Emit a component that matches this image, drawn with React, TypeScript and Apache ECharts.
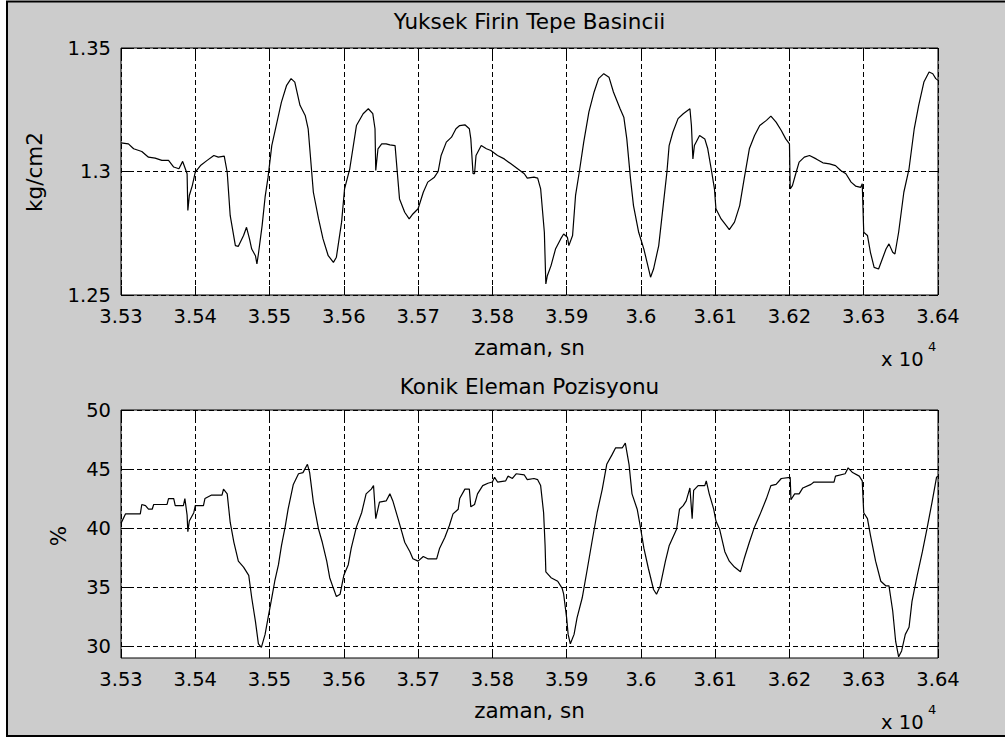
import React, { useEffect, useRef } from "react";
import * as echarts from "echarts";

// Furnace top pressure (kg/cm2) against time (s)
const pressureTime = [
  35300, 35310, 35317, 35328, 35337, 35346, 35355, 35364, 35371, 35378, 35383, 35385, 35389, 35390, 35392, 35396,
  35400, 35407, 35416, 35425, 35431, 35439, 35443, 35447, 35454, 35458, 35465, 35469, 35473, 35476, 35481, 35483,
  35485, 35490, 35494, 35498, 35503, 35510, 35516, 35523, 35529, 35534, 35541, 35548, 35552, 35559, 35566, 35572,
  35579, 35586, 35590, 35597, 35601, 35608, 35617, 35626, 35633, 35639, 35642, 35643, 35646, 35651, 35657, 35662,
  35669, 35672, 35675, 35682, 35688, 35693, 35700, 35707, 35713, 35722, 35727, 35731, 35738, 35745, 35751, 35756,
  35763, 35769, 35771, 35774, 35776, 35778, 35785, 35792, 35798, 35807, 35816, 35825, 35834, 35843, 35847, 35856,
  35861, 35865, 35870, 35872, 35874, 35879, 35885, 35892, 35896, 35901, 35903, 35908, 35912, 35917, 35923, 35930,
  35937, 35943, 35950, 35957, 35963, 35972, 35977, 35981, 35986, 35990, 35997, 36004, 36013, 36017, 36024, 36030,
  36035, 36038, 36043, 36050, 36057, 36066, 36068, 36070, 36072, 36079, 36086, 36090, 36095, 36099, 36101, 36108,
  36115, 36119, 36126, 36133, 36139, 36146, 36153, 36160, 36169, 36175, 36182, 36189, 36195, 36200, 36201, 36204,
  36209, 36213, 36220, 36227, 36236, 36245, 36254, 36262, 36269, 36276, 36283, 36289, 36296, 36298, 36300, 36305,
  36309, 36314, 36320, 36325, 36330, 36334, 36339, 36342, 36347, 36354, 36361, 36368, 36374, 36381, 36388, 36393,
  36397, 36400,
];
const pressureValue = [
  1.3116, 1.3112, 1.3092, 1.3081, 1.3058, 1.3054, 1.3045, 1.3045, 1.3018, 1.3011, 1.3041, 1.3024, 1.2991, 1.2842, 1.2903, 1.2943,
  1.2997, 1.3024, 1.3045, 1.3065, 1.3058, 1.3062, 1.2997, 1.2822, 1.27, 1.2697, 1.2741, 1.2774, 1.2727, 1.2686, 1.2659, 1.2626,
  1.2666, 1.2781, 1.2896, 1.2977, 1.3105, 1.32, 1.3281, 1.3349, 1.3376, 1.3362, 1.3268, 1.3227, 1.3173, 1.2916, 1.2808, 1.2727,
  1.2659, 1.2632, 1.2653, 1.2795, 1.293, 1.3011, 1.3186, 1.3234, 1.3254, 1.3234, 1.3173, 1.3004, 1.3092, 1.3112, 1.3112, 1.3108,
  1.3105, 1.2997, 1.2889, 1.2835, 1.2808, 1.2828, 1.2849, 1.2916, 1.2957, 1.2977, 1.3, 1.3065, 1.3119, 1.3139, 1.3173, 1.3186,
  1.3189, 1.3173, 1.3132, 1.2991, 1.2991, 1.3065, 1.3105, 1.3092, 1.3085, 1.3065, 1.3051, 1.3031, 1.3011, 1.2991, 1.2973, 1.2977,
  1.2973, 1.293, 1.2754, 1.2545, 1.2578, 1.2619, 1.2686, 1.2727, 1.2747, 1.2734, 1.27, 1.2741, 1.2903, 1.2997, 1.3119, 1.3241,
  1.3322, 1.3376, 1.3396, 1.3382, 1.3322, 1.3254, 1.322, 1.3132, 1.297, 1.2862, 1.2754, 1.2686, 1.2572, 1.2605, 1.27, 1.2862,
  1.2997, 1.3105, 1.3159, 1.3214, 1.3234, 1.3254, 1.3186, 1.3051, 1.3105, 1.3146, 1.3132, 1.3092, 1.3004, 1.293, 1.2849, 1.2808,
  1.2781, 1.2765, 1.2795, 1.2862, 1.297, 1.3092, 1.3146, 1.3186, 1.3207, 1.3224, 1.32, 1.3166, 1.3132, 1.3112, 1.293, 1.2943,
  1.2997, 1.3038, 1.3058, 1.3065, 1.3051, 1.3035, 1.3031, 1.3024, 1.3004, 1.2991, 1.2957, 1.2941, 1.2936, 1.295, 1.2754, 1.2741,
  1.2673, 1.2612, 1.2605, 1.2646, 1.2686, 1.2707, 1.2673, 1.2666, 1.2754, 1.2916, 1.3011, 1.3173, 1.3268, 1.3362, 1.3403, 1.3396,
  1.3376, 1.3369,
];

// Cone element position (%) against time (s)
const positionTime = [
  35300, 35306, 35326, 35328, 35333, 35337, 35342, 35344, 35362, 35364, 35371, 35373, 35384, 35386, 35389, 35390,
  35392, 35398, 35400, 35411, 35413, 35422, 35436, 35438, 35443, 35447, 35452, 35458, 35465, 35472, 35476, 35481,
  35485, 35489, 35494, 35498, 35503, 35507, 35512, 35516, 35521, 35525, 35532, 35539, 35545, 35551, 35554, 35559,
  35566, 35571, 35577, 35581, 35586, 35590, 35595, 35600, 35606, 35610, 35617, 35624, 35630, 35637, 35640, 35643,
  35648, 35657, 35662, 35666, 35673, 35678, 35682, 35689, 35693, 35700, 35707, 35713, 35725, 35729, 35736, 35742,
  35747, 35754, 35756, 35763, 35769, 35771, 35776, 35780, 35787, 35794, 35800, 35803, 35807, 35818, 35821, 35827,
  35832, 35843, 35847, 35856, 35861, 35865, 35869, 35871, 35872, 35879, 35888, 35894, 35896, 35900, 35902, 35905,
  35910, 35914, 35921, 35928, 35934, 35941, 35948, 35954, 35961, 35966, 35975, 35979, 35984, 35988, 35995, 35999,
  36004, 36010, 36017, 36021, 36026, 36033, 36038, 36048, 36052, 36057, 36061, 36066, 36069, 36071, 36077, 36086,
  36088, 36092, 36098, 36101, 36106, 36113, 36119, 36126, 36134, 36139, 36146, 36153, 36160, 36169, 36175, 36182,
  36189, 36201, 36202, 36207, 36213, 36218, 36229, 36233, 36260, 36262, 36275, 36279, 36285, 36294, 36298, 36300,
  36305, 36309, 36316, 36323, 36330, 36334, 36339, 36343, 36347, 36351, 36356, 36361, 36365, 36372, 36379, 36385,
  36392, 36398, 36400,
];
const positionValue = [
  40.4, 41.2, 41.2, 42.0, 41.9, 41.6, 41.6, 42.0, 42.0, 42.5, 42.5, 41.9, 41.9, 42.5, 41.1, 39.7,
  40.6, 41.3, 41.9, 41.9, 42.5, 42.8, 42.8, 43.3, 42.9, 40.5, 38.8, 37.2, 36.7, 36.0, 34.1, 32.1,
  30.2, 29.9, 31.0, 32.4, 34.1, 35.5, 36.9, 38.5, 40.1, 41.6, 43.7, 44.6, 44.7, 45.4, 44.7, 42.2,
  39.9, 38.8, 37.2, 35.8, 34.9, 34.2, 34.4, 36.0, 36.9, 38.3, 40.1, 41.3, 42.9, 43.3, 43.6, 40.8,
  42.2, 42.3, 42.9, 42.3, 40.8, 39.7, 38.8, 38.0, 37.4, 37.2, 37.6, 37.4, 37.4, 38.3, 39.2, 40.2,
  41.2, 41.6, 42.5, 43.3, 43.3, 41.8, 42.0, 42.9, 43.6, 43.8, 43.9, 44.3, 43.9, 44.0, 44.4, 44.2,
  44.6, 44.5, 44.1, 44.2, 44.1, 43.6, 41.3, 38.5, 36.3, 35.8, 35.5, 34.9, 34.4, 32.4, 31.0, 30.2,
  31.0, 32.4, 34.1, 36.6, 38.8, 41.3, 43.3, 45.4, 46.2, 46.8, 46.8, 47.2, 45.4, 42.9, 41.6, 40.2,
  38.3, 36.6, 34.8, 34.4, 35.1, 37.2, 38.5, 39.9, 41.6, 41.9, 42.3, 43.4, 40.8, 43.2, 43.6, 43.6,
  44.0, 42.9, 41.6, 40.6, 39.9, 38.0, 37.2, 36.7, 36.3, 37.4, 38.8, 40.1, 41.1, 42.5, 43.6, 43.7,
  44.2, 44.3, 42.4, 42.9, 42.9, 43.4, 43.7, 43.9, 43.9, 44.4, 44.6, 45.1, 44.7, 44.4, 44.0, 41.3,
  40.8, 39.4, 37.2, 35.5, 35.1, 35.1, 33.0, 30.4, 29.1, 29.6, 31.0, 31.6, 33.8, 36.0, 38.0, 39.9,
  42.2, 44.3, 44.4,
];

// Axis ticks
const timeTicks = [35300, 35400, 35500, 35600, 35700, 35800, 35900, 36000, 36100, 36200, 36300, 36400];
const pressureTicks = [1.25, 1.3, 1.35];
const positionTicks = [30, 35, 40, 45, 50];

const FONT = "DejaVu Sans";
const TICK_SIZE = 19.5;
const LABEL_SIZE = 21.5;

const zip = (xs: number[], ys: number[]) => xs.map((x, i) => [x, ys[i]]);

const gridBase = {
  left: 121,
  width: 817,
  show: true,
  backgroundColor: "#ffffff",
  borderColor: "#000000",
  borderWidth: 1,
  containLabel: false,
  outerBoundsMode: "none",
};

const dashed = { color: "#000000", width: 1, type: [5, 3] as number[] };

function timeAxis(gridIndex: number, position: "bottom" | "top", main: boolean) {
  return {
    type: "value",
    gridIndex,
    position,
    min: 35300,
    max: 36400,
    interval: 100,
    axisLine: { show: false },
    axisTick: {
      show: true,
      inside: true,
      length: 9,
      customValues: timeTicks,
      lineStyle: { color: "#000000", width: 1 },
    },
    axisLabel: {
      show: main,
      customValues: timeTicks,
      interval: 0,
      margin: 11,
      color: "#000000",
      fontFamily: FONT,
      fontSize: TICK_SIZE,
      formatter: (v: number) => String(Math.round(v) / 10000),
    },
    splitLine: { show: main, lineStyle: dashed },
  };
}

function valueAxis(
  gridIndex: number,
  position: "left" | "right",
  main: boolean,
  min: number,
  max: number,
  ticks: number[]
) {
  return {
    type: "value",
    gridIndex,
    position,
    min,
    max,
    axisLine: { show: false },
    axisTick: {
      show: true,
      inside: true,
      length: 9,
      customValues: ticks,
      lineStyle: { color: "#000000", width: 1 },
    },
    axisLabel: {
      show: main,
      customValues: ticks,
      margin: 10,
      color: "#000000",
      fontFamily: FONT,
      fontSize: TICK_SIZE,
      formatter: (v: number) => String(v),
    },
    splitLine: { show: main, lineStyle: dashed },
  };
}

function label(text: string, x: number, y: number, size: number, extra: Record<string, unknown> = {}, align = "center") {
  return {
    type: "text",
    x,
    y,
    silent: true,
    ...extra,
    style: {
      text,
      fill: "#000000",
      fontFamily: FONT,
      fontSize: size,
      textAlign: align,
      textVerticalAlign: "middle",
    },
  };
}

export default function App() {
  const ref = useRef<HTMLDivElement>(null);

  useEffect(() => {
    if (!ref.current) return;
    const chart = echarts.init(ref.current, null, { renderer: "svg" });

    chart.setOption({
      animation: false,
      backgroundColor: "#ffffff",
      grid: [
        { ...gridBase, top: 48, height: 247 },
        { ...gridBase, top: 410, height: 248 },
      ],
      xAxis: [
        timeAxis(0, "bottom", true),
        timeAxis(0, "top", false),
        timeAxis(1, "bottom", true),
        timeAxis(1, "top", false),
      ],
      yAxis: [
        valueAxis(0, "left", true, 1.25, 1.35, pressureTicks),
        valueAxis(0, "right", false, 1.25, 1.35, pressureTicks),
        valueAxis(1, "left", true, 29, 50, positionTicks),
        valueAxis(1, "right", false, 29, 50, positionTicks),
      ],
      series: [
        {
          name: "Yuksek Firin Tepe Basincii",
          type: "line",
          xAxisIndex: 0,
          yAxisIndex: 0,
          data: zip(pressureTime, pressureValue),
          showSymbol: false,
          smooth: false,
          lineStyle: { color: "#000000", width: 1.2 },
          z: 5,
        },
        {
          name: "Konik Eleman Pozisyonu",
          type: "line",
          xAxisIndex: 2,
          yAxisIndex: 2,
          data: zip(positionTime, positionValue),
          showSymbol: false,
          smooth: false,
          lineStyle: { color: "#000000", width: 1.2 },
          z: 5,
        },
      ],
      graphic: [
        {
          type: "rect",
          z: -10,
          silent: true,
          shape: { x: 7, y: 1.5, width: 1010, height: 734.5 },
          style: { fill: "#cccccc", stroke: "#000000", lineWidth: 2 },
        },
        label("Yuksek Firin Tepe Basincii", 529.5, 21, LABEL_SIZE),
        label("zaman, sn", 529.5, 347, LABEL_SIZE),
        label("kg/cm2", 34, 172, LABEL_SIZE, { rotation: Math.PI / 2 }),
        label("x 10", 881, 359, TICK_SIZE, {}, "left"),
        label("4", 928, 346, 13, {}, "left"),
        label("Konik Eleman Pozisyonu", 529.5, 386, LABEL_SIZE),
        label("zaman, sn", 529.5, 710, LABEL_SIZE),
        label("%", 58, 536, LABEL_SIZE, { rotation: Math.PI / 2 }),
        label("x 10", 881, 722, TICK_SIZE, {}, "left"),
        label("4", 928, 709, 13, {}, "left"),
      ],
    });

    return () => chart.dispose();
  }, []);

  return (
    <div
      ref={ref}
      style={{ position: "fixed", left: 0, top: 0, width: 1005, height: 740 }}
    />
  );
}
